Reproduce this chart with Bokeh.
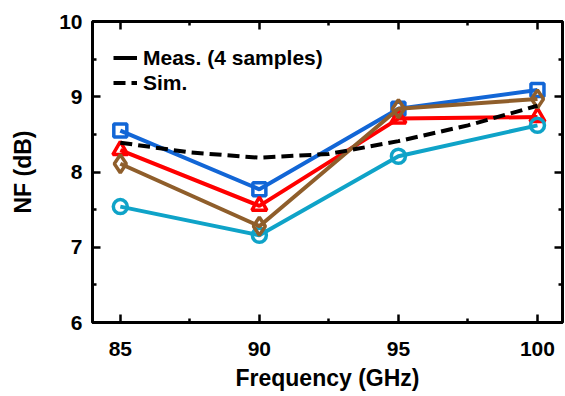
from bokeh.plotting import figure
from bokeh.models import (LinearAxis, FixedTicker, Legend, LegendItem, Range1d)
from bokeh.embed import file_html
from bokeh.resources import INLINE

# ---- data ----
freq = [85, 90, 95, 100]
nf_s1 = [8.55, 7.77, 8.84, 9.09]   # blue squares
nf_s2 = [8.29, 7.55, 8.71, 8.73]   # red triangles
nf_s3 = [8.11, 7.28, 8.84, 8.97]   # brown diamonds
nf_s4 = [7.54, 7.16, 8.21, 8.62]   # cyan circles
sim_freq = [85, 87.5, 90, 92.5, 95, 97.5, 100]
sim_nf = [8.39, 8.26, 8.19, 8.24, 8.41, 8.62, 8.88]
x_ticks = [85, 90, 95, 100]
y_ticks = [6, 7, 8, 9, 10]
legend_labels = ["Meas. (4 samples)", "Sim."]

FONT = "Liberation Sans"
FS = "21px"
LFS = "23px"

p = figure(width=565, height=396, output_backend="svg", toolbar_location=None,
           x_range=Range1d(84.0, 100.9), y_range=Range1d(6, 10),
           min_border_left=92, min_border_right=3, min_border_top=21,
           min_border_bottom=74, x_axis_location=None, y_axis_location=None)
p.grid.visible = False
p.outline_line_color = "black"
p.outline_line_width = 2.8
p.background_fill_color = "white"
p.border_fill_color = "white"

def style_axis(ax, labels=True):
    ax.axis_line_width = 2.8
    ax.axis_line_color = "black"
    ax.major_tick_in = 8
    ax.major_tick_out = 0
    ax.minor_tick_in = 4
    ax.minor_tick_out = 0
    ax.major_tick_line_width = 2.5
    ax.minor_tick_line_width = 2.5
    ax.major_tick_line_color = "black"
    ax.minor_tick_line_color = "black"
    ax.major_label_text_font = FONT
    ax.major_label_text_font_style = "bold"
    ax.major_label_text_color = "black"
    ax.axis_label_text_font = FONT
    ax.axis_label_text_font_style = "bold"
    ax.axis_label_text_font_size = LFS
    ax.axis_label_text_color = "black"
    if labels:
        ax.major_label_text_font_size = FS
    else:
        ax.major_label_text_font_size = "1px"
        ax.major_label_text_color = None
        ax.major_label_standoff = 0

xt = FixedTicker(ticks=x_ticks, minor_ticks=[87.5, 92.5, 97.5])
yt = FixedTicker(ticks=y_ticks, minor_ticks=[6.5, 7.5, 8.5, 9.5])

xb = LinearAxis(ticker=xt, axis_label="Frequency (GHz)")
style_axis(xb)
xb.major_label_standoff = 19
xb.axis_label_standoff = 6
p.add_layout(xb, "below")

yl = LinearAxis(ticker=yt, axis_label="NF (dB)")
style_axis(yl)
yl.major_label_standoff = 10
yl.axis_label_standoff = 20
p.add_layout(yl, "left")

xa = LinearAxis(ticker=xt)
style_axis(xa, labels=False)
p.add_layout(xa, "above")

yr = LinearAxis(ticker=yt)
style_axis(yr, labels=False)
p.add_layout(yr, "right")

series = [
    (nf_s1, "#1266d6", "square", 13),
    (nf_s2, "#ff0000", "triangle", 15),
    (nf_s4, "#0fa3c8", "circle", 14),
    (nf_s3, "#8f5e2b", "diamond", 18),
]
for ys, col, mk, sz in series:
    p.line(freq, ys, line_color=col, line_width=4)
    p.scatter(freq, ys, marker=mk, size=sz, line_color=col, line_width=3.5,
              fill_color=None)

sim_r = p.line(sim_freq, sim_nf, line_color="black", line_width=4,
               line_dash="12 6")

nan = float("nan")
meas_r = p.line(x=[nan], y=[nan], line_color="black", line_width=4)

legend = Legend(items=[LegendItem(label=legend_labels[0], renderers=[meas_r]),
                       LegendItem(label=legend_labels[1], renderers=[sim_r])],
                location=(21, 227), border_line_color=None,
                background_fill_alpha=0, padding=0, margin=0, spacing=0,
                glyph_width=24, glyph_height=25, label_height=25,
                label_standoff=6, label_text_font=FONT,
                label_text_font_style="bold", label_text_font_size=FS,
                label_text_color="black")
p.add_layout(legend, "center")

open("out.html", "w").write(file_html(p, INLINE))
